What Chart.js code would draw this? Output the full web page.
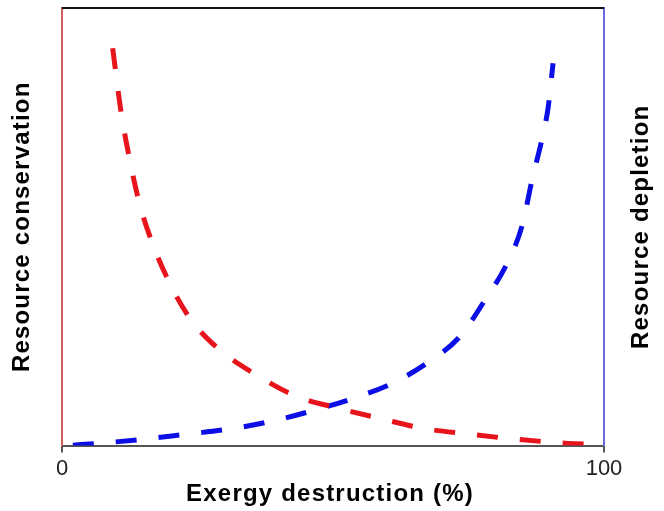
<!DOCTYPE html>
<html>
<head>
<meta charset="utf-8">
<script src="https://cdn.jsdelivr.net/npm/chart.js@4"></script>
<style>
  html, body { margin: 0; padding: 0; background: #fff; }
  #wrap { width: 664px; height: 511px; }
</style>
</head>
<body>
<div id="wrap"><canvas id="c" width="664" height="511"></canvas></div>
<script>
// values (x in %, y in % of axis height)
const conservationX = [9.35, 10.9, 12.4, 14.2, 16.6, 19.6, 23.6, 28.8, 35.8, 43.0, 50.4, 58.7, 66.8, 74.5, 82.7, 93.4, 99.8];
const conservationY = [90.8, 76.2, 65.9, 55.8, 46.5, 37.8, 29.1, 22.2, 16.2, 11.4, 8.7, 6.2, 3.9, 2.7, 1.6, 0.5, 0.2];
const depletionX = [2.0, 6.5, 14.6, 22.3, 30.4, 38.4, 46.3, 53.7, 60.9, 67.5, 73.4, 77.9, 82.1, 84.9, 86.7, 88.6, 89.7, 90.6];
const depletionY = [0.1, 0.5, 1.4, 2.5, 3.7, 5.5, 8.0, 10.8, 14.2, 19.0, 24.9, 33.0, 41.6, 50.3, 60.6, 70.3, 77.3, 87.4];
const xTickValues = [0, 100];
const leftTitle = "Resource conservation";
const rightTitle = "Resource depletion";
const xTitle = "Exergy destruction (%)";

const FONT = "'Liberation Sans', Arial, Helvetica, sans-serif";

const toPoints = (xs, ys) => xs.map((x, i) => ({ x, y: ys[i] }));

// titles drawn by hand so the right one reads bottom-to-top like the original
const titlesPlugin = {
  id: "titles",
  afterDraw(chart) {
    const { ctx, chartArea: { left, right, top, bottom } } = chart;
    const midY = (top + bottom) / 2;
    ctx.save();
    // top frame line
    ctx.beginPath();
    ctx.moveTo(left, top);
    ctx.lineTo(right, top);
    ctx.lineWidth = 2;
    ctx.strokeStyle = "#111";
    ctx.stroke();

    ctx.fillStyle = "#000";
    ctx.font = "bold 24px " + FONT;
    ctx.textAlign = "center";
    ctx.textBaseline = "middle";
    if ("letterSpacing" in ctx) ctx.letterSpacing = "1.2px";

    ctx.save();
    ctx.translate(22, midY);
    ctx.rotate(-Math.PI / 2);
    ctx.fillText(leftTitle, 0, 0);
    ctx.restore();

    ctx.save();
    ctx.translate(641, midY);
    ctx.rotate(-Math.PI / 2);
    ctx.fillText(rightTitle, 0, 0);
    ctx.restore();

    ctx.fillText(xTitle, 330, 494);
    ctx.restore();
  }
};

new Chart(document.getElementById("c").getContext("2d"), {
  type: "line",
  data: {
    datasets: [
      {
        label: "Resource conservation",
        data: toPoints(conservationX, conservationY),
        borderColor: "#e8141c",
        borderWidth: 5,
        borderDash: [21, 22],
        borderCapStyle: "butt",
        pointRadius: 0,
        cubicInterpolationMode: "monotone",
        fill: false,
        yAxisID: "y"
      },
      {
        label: "Resource depletion",
        data: toPoints(depletionX, depletionY),
        borderColor: "#0c0ee6",
        borderWidth: 5,
        borderDash: [21, 22],
        borderCapStyle: "butt",
        pointRadius: 0,
        cubicInterpolationMode: "monotone",
        fill: false,
        yAxisID: "y2"
      }
    ]
  },
  options: {
    responsive: false,
    animation: false,
    layout: { padding: { left: 62, right: 60, top: 8, bottom: 26 } },
    plugins: { legend: { display: false }, tooltip: { enabled: false } },
    scales: {
      x: {
        type: "linear",
        min: 0,
        max: 100,
        afterBuildTicks: (s) => { s.ticks = xTickValues.map(v => ({ value: v })); },
        ticks: { color: "#222", font: { family: FONT, size: 22 }, padding: 3 },
        grid: { drawOnChartArea: false, drawTicks: true, tickLength: 7, color: "#555", lineWidth: 2 },
        border: { display: true, color: "#555", width: 2 }
      },
      y: {
        position: "left",
        min: 0,
        max: 100,
        ticks: { display: false },
        grid: { display: false, drawTicks: false },
        border: { display: true, color: "#d06060", width: 2 }
      },
      y2: {
        position: "right",
        min: 0,
        max: 100,
        ticks: { display: false },
        grid: { display: false, drawTicks: false },
        border: { display: true, color: "#6a6ae0", width: 2 }
      }
    }
  },
  plugins: [titlesPlugin]
});
</script>
</body>
</html>
